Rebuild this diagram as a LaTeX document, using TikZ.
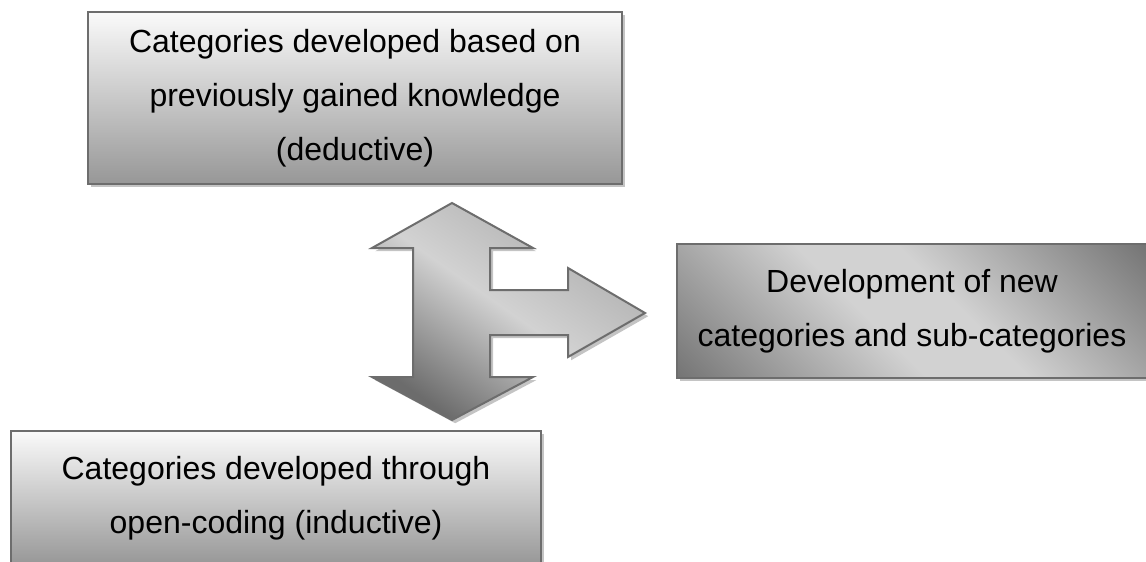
\documentclass[tikz,border=0pt]{standalone}
\usepackage{fontspec}
\setmainfont{Liberation Sans}
\usetikzlibrary{shadows}

\definecolor{edgegray}{HTML}{6D6D6D}
\definecolor{shadowgray}{HTML}{C4C4C4}
\definecolor{boxlight}{HTML}{FAFAFA}
\definecolor{boxdark}{HTML}{979797}
\definecolor{midlight}{HTML}{D2D2D2}
\definecolor{middark}{HTML}{6C6C6C}
\definecolor{arrowtop}{HTML}{ABABAB}

% light band between two dark ends
\pgfdeclareverticalshading{glowband}{100bp}{color(0bp)=(middark); color(12bp)=(middark);
  color(44bp)=(midlight); color(56bp)=(midlight); color(88bp)=(middark); color(100bp)=(middark)}

\tikzset{
  catbox/.style={draw=edgegray, line width=1pt, align=center, inner sep=0pt,
    drop shadow={shadow xshift=1.6pt, shadow yshift=-1.6pt, fill=shadowgray, opacity=1},
    font=\fontsize{16}{27}\selectfont},
  fadebox/.style={catbox, top color=boxlight, bottom color=boxdark},
  glowbox/.style={catbox, shading=glowband, shading angle=-45}
}

\begin{document}
\begin{tikzpicture}[x=0.5pt, y=-0.5pt]
% Fix the frame of the picture
\useasboundingbox (0,0) rectangle (1146,562);
\clip (0,0) rectangle (1146,562);
% Draw the box for the deductive categories
\node[fadebox, minimum width=267pt, minimum height=86pt] (deductive) at (355,98)
  {Categories developed based on\\ previously gained knowledge\\ (deductive)};
% Draw the box for the inductive categories
\node[fadebox, minimum width=265pt, minimum height=67pt] (inductive) at (276,498)
  {Categories developed through\\ open-coding (inductive)};
% Draw the box for the new categories
\node[glowbox, minimum width=235pt, minimum height=67pt] (newcat) at (912,311)
  {Development of new\\ categories and sub-categories};
% Draw the three-headed block arrow
\draw[edgegray, line width=1pt, shading=axis, top color=arrowtop, bottom color=middark,
    middle color=midlight, shading angle=-35,
    drop shadow={shadow xshift=1.6pt, shadow yshift=-1.6pt, fill=shadowgray, opacity=1}]
  (452,203) -- (533,248) -- (490,248) -- (490,290) -- (568,290) -- (568,268)
  -- (645,313) -- (568,357) -- (568,335) -- (490,335) -- (490,377) -- (533,377)
  -- (452,420) -- (372,377) -- (413,377) -- (413,248) -- (372,248) -- cycle;
\end{tikzpicture}
\end{document}
